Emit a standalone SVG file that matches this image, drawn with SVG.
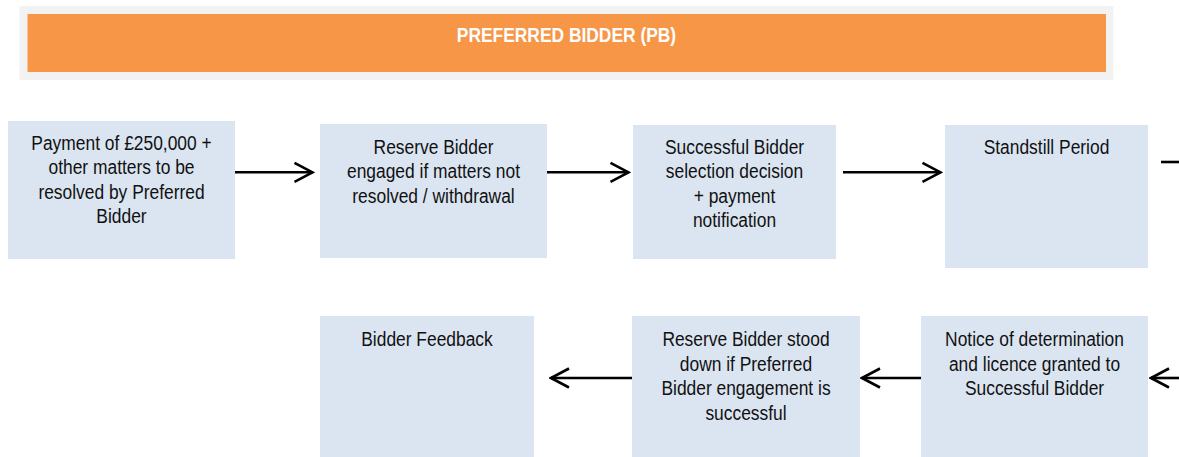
<svg xmlns="http://www.w3.org/2000/svg" width="1179" height="457" viewBox="0 0 1179 457">
<defs>
<style>
.box{fill:#DBE5F1;}
.t{font-family:"Liberation Sans",Arial,sans-serif;font-size:20px;fill:#111;text-anchor:middle;}
.h{font-family:"Liberation Sans",Arial,sans-serif;font-size:20px;font-weight:bold;fill:#fff;text-anchor:middle;}
.c{stroke:#000;stroke-width:2.6;fill:none;}
</style>
<marker id="ah" markerUnits="userSpaceOnUse" viewBox="0 0 22 22" markerWidth="22" markerHeight="22" refX="20" refY="11" orient="auto">
<path d="M2,1.5 L20,11 L2,20.5" fill="none" stroke="#000" stroke-width="2.6" stroke-linejoin="miter"/>
</marker>
</defs>
<rect width="1179" height="457" fill="#fff"/>
<g id="header">
<rect x="19.5" y="6" width="1094" height="74" fill="#F2F2F2"/>
<rect x="27.5" y="14" width="1078.5" height="58" fill="#F79646"/>
<g transform="translate(566.5,0) scale(0.87,1)"><text class="h" x="0" y="42.5">PREFERRED BIDDER (PB)</text></g>
</g>
<g id="connectors">
<line class="c" x1="234" y1="172.3" x2="312.5" y2="172.3" marker-end="url(#ah)"/>
<line class="c" x1="547" y1="172.3" x2="628.5" y2="172.3" marker-end="url(#ah)"/>
<line class="c" x1="843" y1="172.3" x2="940.5" y2="172.3" marker-end="url(#ah)"/>
<line class="c" x1="1161" y1="162" x2="1179" y2="162"/>
<line class="c" x1="1181" y1="378" x2="1151" y2="378" marker-end="url(#ah)"/>
<line class="c" x1="921" y1="378" x2="862" y2="378" marker-end="url(#ah)"/>
<line class="c" x1="632" y1="378" x2="551" y2="378" marker-end="url(#ah)"/>
</g>
<g id="n1">
<rect class="box" x="8" y="121" width="227" height="138"/>
<g transform="translate(121.5,0) scale(0.87,1)">
<text class="t" x="0" y="150">Payment of £250,000 +</text>
<text class="t" x="0" y="174.5">other matters to be</text>
<text class="t" x="0" y="199">resolved by Preferred</text>
<text class="t" x="0" y="223.5">Bidder</text>
</g>
</g>
<g id="n2">
<rect class="box" x="320" y="124" width="227" height="134"/>
<g transform="translate(433.5,0) scale(0.87,1)">
<text class="t" x="0" y="154">Reserve Bidder</text>
<text class="t" x="0" y="178.3">engaged if matters not</text>
<text class="t" x="0" y="202.6">resolved / withdrawal</text>
</g>
</g>
<g id="n3">
<rect class="box" x="633" y="125" width="203" height="134"/>
<g transform="translate(734.5,0) scale(0.87,1)">
<text class="t" x="0" y="154">Successful Bidder</text>
<text class="t" x="0" y="178.5">selection decision</text>
<text class="t" x="0" y="203">+ payment</text>
<text class="t" x="0" y="227.5">notification</text>
</g>
</g>
<g id="n4">
<rect class="box" x="945" y="125" width="203" height="143"/>
<g transform="translate(1046.5,0) scale(0.87,1)">
<text class="t" x="0" y="154">Standstill Period</text>
</g>
</g>
<g id="n5">
<rect class="box" x="320" y="316" width="214" height="141"/>
<g transform="translate(427,0) scale(0.87,1)">
<text class="t" x="0" y="346.5">Bidder Feedback</text>
</g>
</g>
<g id="n6">
<rect class="box" x="632" y="316" width="228" height="141"/>
<g transform="translate(746,0) scale(0.87,1)">
<text class="t" x="0" y="346.5">Reserve Bidder stood</text>
<text class="t" x="0" y="371">down if Preferred</text>
<text class="t" x="0" y="395.5">Bidder engagement is</text>
<text class="t" x="0" y="420">successful</text>
</g>
</g>
<g id="n7">
<rect class="box" x="921" y="316" width="227" height="141"/>
<g transform="translate(1034.5,0) scale(0.87,1)">
<text class="t" x="0" y="346.5">Notice of determination</text>
<text class="t" x="0" y="371">and licence granted to</text>
<text class="t" x="0" y="395.5">Successful Bidder</text>
</g>
</g>
</svg>
